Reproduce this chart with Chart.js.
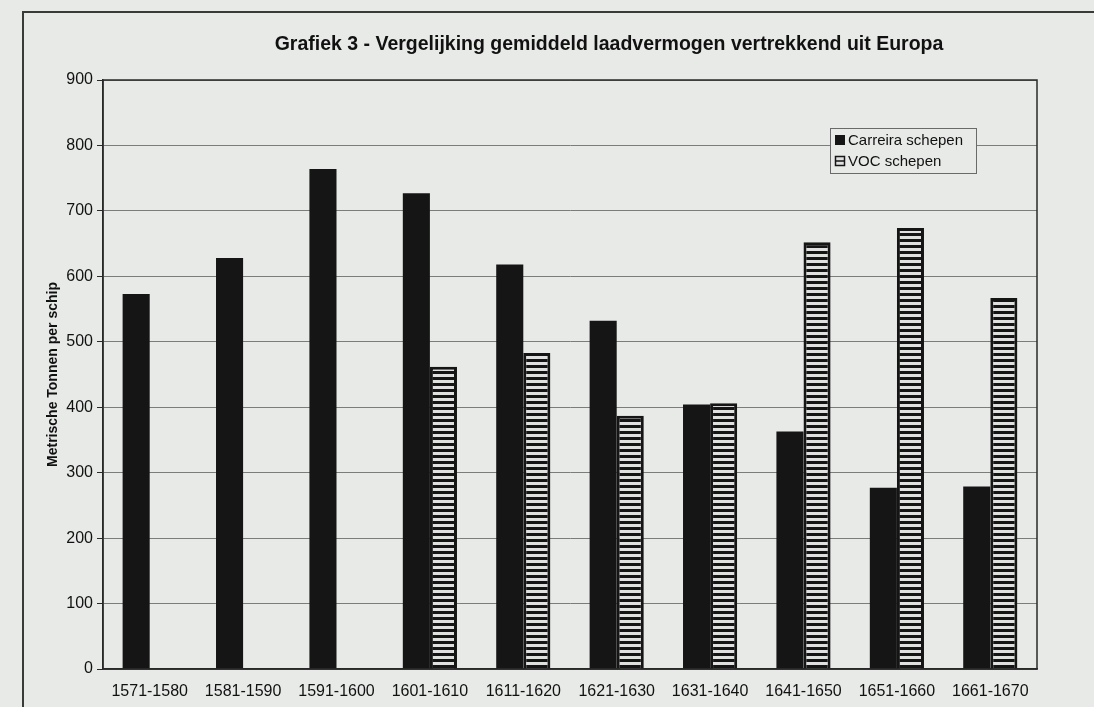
<!DOCTYPE html>
<html>
<head>
<meta charset="utf-8">
<script src="https://cdn.jsdelivr.net/npm/chart.js@4.4.1/dist/chart.umd.min.js"></script>
<style>
  body { margin: 0; background: #e8eae8; }
  #wrap { width: 1094px; height: 707px; position: relative; }
</style>
</head>
<body>
<div id="wrap"><canvas id="ladingChart"></canvas></div>
<script>
// data
const categories = ['1571-1580', '1581-1590', '1591-1600', '1601-1610', '1611-1620', '1621-1630', '1631-1640', '1641-1650', '1651-1660', '1661-1670'];
const carreiraValues = [573, 628, 764, 727, 618, 532, 404, 363, 277, 279];
const vocValues = [null, null, null, 462, 483, 387, 406, 652, 674, 567];
const seriesNames = ['Carreira schepen', 'VOC schepen'];
const yMin = 0, yMax = 900, yStep = 100;
const chartTitle = 'Grafiek 3 - Vergelijking gemiddeld laadvermogen vertrekkend uit Europa';
const yTitle = 'Metrische Tonnen per schip';

const bg = '#e8eae8';
const dark = '#151515';
const FONT = '"Liberation Sans", Arial, sans-serif';

function stripePattern() {
    var c = document.createElement('canvas');
    c.width = 6; c.height = 6;
    var g = c.getContext('2d');
    g.fillStyle = dark;
    g.fillRect(0, 0, 6, 6);
    g.fillStyle = '#dfe1df';
    g.fillRect(0, 2, 6, 3);
    return g.createPattern(c, 'repeat');
}

// page background, outer frame, title, plot border and legend
const decorations = {
    id: 'decorations',
    beforeDraw: function(chart) {
        const ctx = chart.ctx;
        ctx.save();
        ctx.fillStyle = bg;
        ctx.fillRect(0, 0, chart.width, chart.height);
        ctx.strokeStyle = '#3a3a3a';
        ctx.lineWidth = 2;
        ctx.beginPath();
        ctx.moveTo(23, chart.height);
        ctx.lineTo(23, 12);
        ctx.lineTo(chart.width, 12);
        ctx.stroke();
        ctx.restore();
    },
    afterDraw: function(chart) {
        const ctx = chart.ctx;
        const a = chart.chartArea;
        ctx.save();
        ctx.strokeStyle = '#2a2a2a';
        ctx.lineWidth = 1.5;
        ctx.strokeRect(a.left, a.top, a.right - a.left, a.bottom - a.top);

        ctx.fillStyle = '#111';
        ctx.font = 'bold 19.5px ' + FONT;
        ctx.textAlign = 'center';
        ctx.textBaseline = 'middle';
        ctx.fillText(chartTitle, 609, 45);

        // legend box
        const lx = 830, ly = 128, lw = 146, lh = 45;
        ctx.fillStyle = bg;
        ctx.fillRect(lx, ly, lw, lh);
        ctx.strokeStyle = '#6a6a6a';
        ctx.lineWidth = 1;
        ctx.strokeRect(lx + 0.5, ly + 0.5, lw, lh);
        ctx.font = '15px ' + FONT;
        ctx.textAlign = 'left';
        chart.data.datasets.forEach(function(ds, i) {
            const yy = ly + 12 + i * 21;
            if (i === 0) {
                ctx.fillStyle = dark;
                ctx.fillRect(lx + 5, yy - 5, 10, 10);
            } else {
                ctx.fillStyle = '#dfe1df';
                ctx.fillRect(lx + 5, yy - 5, 10, 10);
                ctx.strokeStyle = dark;
                ctx.lineWidth = 1.5;
                ctx.strokeRect(lx + 5.5, yy - 4.5, 9, 9);
                ctx.beginPath();
                ctx.moveTo(lx + 5, yy);
                ctx.lineTo(lx + 15, yy);
                ctx.stroke();
            }
            ctx.fillStyle = '#111';
            ctx.fillText(ds.label, lx + 18, yy + 1);
        });
        ctx.restore();
    }
};

document.addEventListener('DOMContentLoaded', function() {
    const ctx = document.getElementById('ladingChart').getContext('2d');
    new Chart(ctx, {
        type: 'bar',
        data: {
            labels: categories,
            datasets: [{
                label: seriesNames[0],
                data: carreiraValues,
                backgroundColor: dark,
                borderWidth: 0,
                categoryPercentage: 0.58,
                barPercentage: 1
            }, {
                label: seriesNames[1],
                data: vocValues,
                backgroundColor: stripePattern(),
                borderColor: dark,
                borderWidth: 3,
                categoryPercentage: 0.58,
                barPercentage: 1
            }]
        },
        options: {
            responsive: true,
            maintainAspectRatio: false,
            animation: false,
            layout: { padding: { top: 80, right: 57, bottom: 0, left: 0 } },
            scales: {
                x: {
                    grid: { display: false, drawTicks: false },
                    border: { display: true, color: '#2a2a2a', width: 1.5 },
                    ticks: { color: '#111', font: { family: FONT, size: 16 }, padding: 13, maxRotation: 0, autoSkip: false },
                    afterFit: function(scale) { scale.height = 38; }
                },
                y: {
                    min: yMin,
                    max: yMax,
                    ticks: { stepSize: yStep, color: '#111', font: { family: FONT, size: 16 }, padding: 4 },
                    grid: { color: '#7c7c7c', lineWidth: 1, tickLength: 6, tickColor: '#2a2a2a' },
                    border: { display: true, color: '#2a2a2a', width: 1.5 },
                    title: { display: true, text: yTitle, color: '#111', font: { family: FONT, size: 14, weight: 'bold' }, padding: { top: 45, bottom: 0 } },
                    afterFit: function(scale) { scale.width = 103; }
                }
            },
            plugins: {
                legend: { display: false },
                title: { display: false },
                tooltip: { enabled: false }
            }
        },
        plugins: [decorations]
    });
});
</script>
</body>
</html>
